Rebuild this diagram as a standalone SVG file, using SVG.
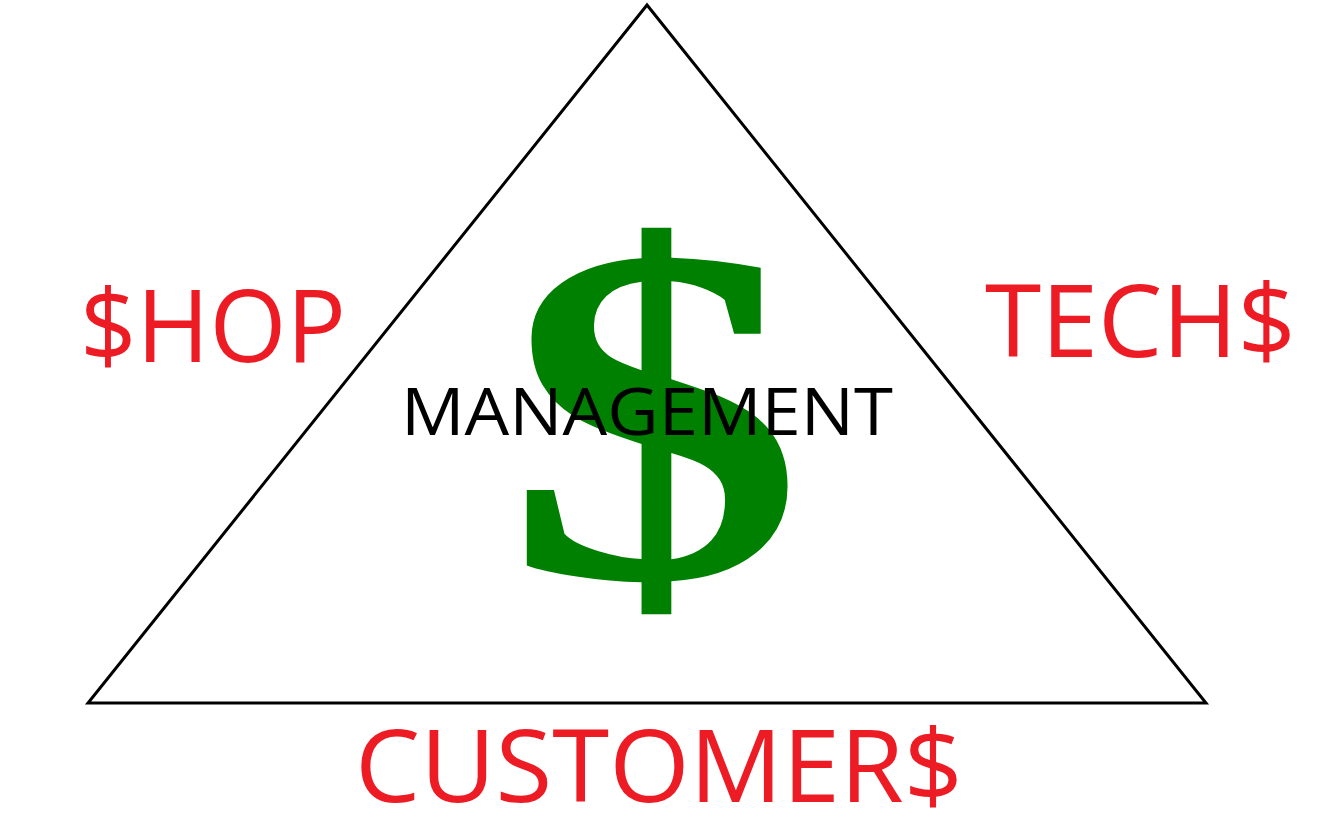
<svg xmlns="http://www.w3.org/2000/svg" width="1327" height="823" viewBox="0 0 1327 823">
<style>
.red{fill:#ed1c24;font-family:"Open Sans","Liberation Sans",sans-serif;font-size:100px}
.mg{fill:#000;font-family:"Open Sans","Liberation Sans",sans-serif;font-size:66px}
</style>
<rect width="1327" height="823" fill="#fff"/>
<g id="triangle"><polygon points="647,5 88,703 1206,703" fill="none" stroke="#000" stroke-width="3"/></g>
<g id="dollar" transform="translate(655,0) scale(1.3,1.05) translate(-655,0)"><text x="655" y="550" text-anchor="middle" font-family="Liberation Serif,serif" font-size="460" font-weight="bold" fill="#008000">$</text></g>
<g id="management"><text class="mg" x="647" y="435" text-anchor="middle" textLength="492" lengthAdjust="spacingAndGlyphs">MANAGEMENT</text></g>
<g id="shop"><text class="red" x="80" y="362" textLength="266" lengthAdjust="spacingAndGlyphs">$HOP</text></g>
<g id="techs"><text class="red" x="985" y="357" textLength="311" lengthAdjust="spacingAndGlyphs">TECH$</text></g>
<g id="customers"><text class="red" x="355" y="802" font-size="104" textLength="608" lengthAdjust="spacingAndGlyphs">CUSTOMER$</text></g>
<g id="connectors"></g>
</svg>
